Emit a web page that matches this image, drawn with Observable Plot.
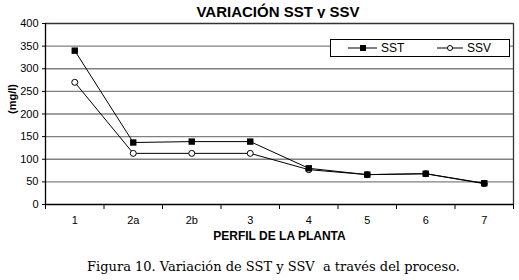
<!DOCTYPE html>
<html>
<head>
<meta charset="utf-8">
<script src="https://cdn.jsdelivr.net/npm/d3@7"></script>
<script src="https://cdn.jsdelivr.net/npm/@observablehq/plot@0.6"></script>
<style>
  body { margin: 0; background: #fff; }
  #wrap { position: relative; width: 519px; height: 280px; font-family: "Liberation Sans", Arial, sans-serif; }
  #title { position: absolute; left: 37px; width: 482px; top: 3px; text-align: center; font-weight: bold; font-size: 15px; line-height: 18px; }
  #chart { position: absolute; left: 0; top: 18px; }
  #caption { position: absolute; left: 14px; width: 519px; top: 258px; text-align: center; font-family: "DejaVu Serif", "Liberation Serif", serif; font-size: 13px; line-height: 18px; }
  #legend { position: absolute; left: 330px; top: 39px; width: 178px; height: 16px; border: 1px solid #000; background: #fff; font-size: 12px; }
  #legend svg { position: absolute; top: 0; }
  #legend span { position: absolute; top: 1px; line-height: 14px; }
</style>
</head>
<body>
<div id="wrap">
  <div id="title">VARIACIÓN SST y SSV</div>
  <div id="chart"></div>
  <div id="legend">
    <svg width="178" height="16">
      <line x1="17" x2="46" y1="8" y2="8" stroke="#000"/>
      <rect x="29" y="5" width="6" height="6" fill="#000"/>
      <line x1="106" x2="132" y1="8" y2="8" stroke="#000"/>
      <circle cx="119" cy="8" r="2.5" fill="#fff" stroke="#000"/>
    </svg>
    <span style="left:50px">SST</span>
    <span style="left:136px">SSV</span>
  </div>
  <div id="caption">Figura 10. Variación de SST y SSV&nbsp; a través del proceso.</div>
</div>
<script>
const categories = ["1", "2a", "2b", "3", "4", "5", "6", "7"];
const sst = [340, 137, 139, 139, 80, 66, 68, 47];
const ssv = [270, 113, 113, 113, 77, 66, 68, 46];
const yTicks = [0, 50, 100, 150, 200, 250, 300, 350, 400];

const rows = (vals, series) => vals.map((v, i) => ({pos: i + 0.5, value: v, series}));
const sstData = rows(sst, "SST");
const ssvData = rows(ssv, "SSV");
const boundaries = d3.range(categories.length + 1);
const centers = categories.map((c, i) => i + 0.5);

const chart = Plot.plot({
  width: 519,
  height: 232,
  marginLeft: 45,
  marginRight: 6,
  marginTop: 5,
  marginBottom: 46,
  style: {fontFamily: "Liberation Sans, Arial, sans-serif", fontSize: "11px", color: "#000", background: "#fff"},
  x: {type: "linear", domain: [0, categories.length], axis: null},
  y: {domain: [0, 400], axis: null},
  marks: [
    Plot.ruleY(yTicks.slice(1, -1), {stroke: "#808080", strokeWidth: 1.3}),
    Plot.ruleY([400], {stroke: "#333", strokeWidth: 1.3}),
    Plot.ruleX([categories.length], {stroke: "#333", strokeWidth: 1.3}),
    Plot.axisY({ticks: yTicks, tickSize: 3, tickPadding: 4, label: null, tickFormat: d => d}),
    Plot.axisX({ticks: boundaries, tickSize: 5, tickFormat: () => "", label: null}),
    Plot.axisX({ticks: centers, tickSize: 0, tickPadding: 12, tickFormat: (d, i) => categories[i], label: null}),
    Plot.ruleX([0], {stroke: "#000", strokeWidth: 1.3}),
    Plot.ruleY([0], {stroke: "#000", strokeWidth: 1.3}),
    Plot.line(ssvData, {x: "pos", y: "value", stroke: "#000", strokeWidth: 1}),
    Plot.line(sstData, {x: "pos", y: "value", stroke: "#000", strokeWidth: 1}),
    Plot.dot(ssvData, {x: "pos", y: "value", r: 3, fill: "#fff", stroke: "#000", strokeWidth: 1}),
    Plot.dot(sstData, {x: "pos", y: "value", symbol: "square", r: 3.6, fill: "#000", stroke: "none"}),
    Plot.text(["PERFIL DE LA PLANTA"], {frameAnchor: "bottom", dy: 35, fontWeight: "bold", fontSize: 12}),
    Plot.text(["(mg/l)"], {frameAnchor: "left", rotate: -90, dx: -33, fontWeight: "bold", fontSize: 11})
  ]
});
document.getElementById("chart").appendChild(chart);
</script>
</body>
</html>
